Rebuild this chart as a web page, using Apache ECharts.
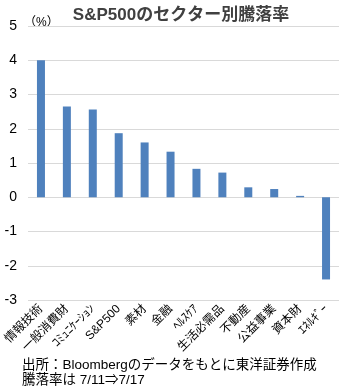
<!DOCTYPE html>
<html><head><meta charset="utf-8">
<script src="https://cdn.jsdelivr.net/npm/echarts@6/dist/echarts.min.js"></script>
<style>html,body{margin:0;padding:0;background:#fff}#c{width:340px;height:390px}</style>
</head><body><div id="c"></div>
<script>
const categories = ["情報技術","一般消費財","ｺﾐｭﾆｹｰｼｮﾝ","S&P500","素材","金融","ﾍﾙｽｹｱ","生活必需品","不動産","公益事業","資本財","ｴﾈﾙｷﾞｰ"];
const values = [4.0, 2.65, 2.56, 1.87, 1.6, 1.33, 0.83, 0.72, 0.29, 0.24, 0.04, -2.4];
const yTicks = {min: -3, max: 5, interval: 1};
const titleText = "S&P500のセクター別騰落率";
const unitText = "（%）";
const footer1 = "出所：Bloombergのデータをもとに東洋証券作成";
const footer2 = "騰落率は 7/11⇒7/17";

const chart = echarts.init(document.getElementById('c'));
const jp = '"Liberation Sans","Noto Sans CJK JP",sans-serif';
chart.setOption({
  animation: false,
  title: {text: titleText, left: 176, top: 2, textAlign: 'center',
    textStyle: {fontSize: 17, fontWeight: 'bold', color: '#404040', fontFamily: jp}},
  grid: {left: 28, right: 1, top: 26, bottom: 90},
  xAxis: {type: 'category', data: categories,
    axisLine: {show: false}, axisTick: {show: false},
    axisLabel: {rotate: 45, interval: 0, fontSize: 12, color: '#000', margin: 7, fontFamily: jp}},
  yAxis: {type: 'value', min: yTicks.min, max: yTicks.max, interval: yTicks.interval,
    axisLine: {show: false}, axisTick: {show: false},
    axisLabel: {fontSize: 14, color: '#000', margin: 11, fontFamily: jp},
    splitLine: {lineStyle: {color: '#d9d9d9', width: 1}}},
  series: [{type: 'bar', data: values, barWidth: 8,
    itemStyle: {color: '#4f81bd'}}],
  graphic: [
    {type: 'text', left: 24, top: 17, style: {text: unitText, fontSize: 12, fill: '#000', fontFamily: jp}},
    {type: 'text', left: 22, top: 359, style: {text: footer1, fontSize: 13.5, fill: '#000', fontFamily: jp}},
    {type: 'text', left: 22, top: 374, style: {text: footer2, fontSize: 13.5, fill: '#000', fontFamily: jp}}
  ]
});
</script></body></html>
